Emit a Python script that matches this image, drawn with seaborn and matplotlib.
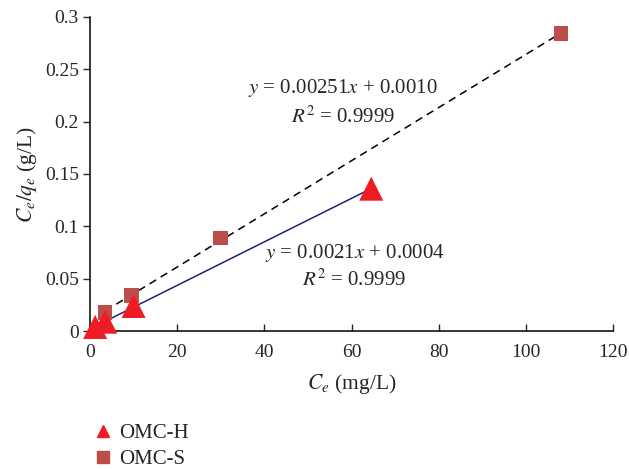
import numpy as np
import pandas as pd
import matplotlib
matplotlib.use("Agg")
import matplotlib.pyplot as plt
import seaborn as sns

# ~ values
h_ce = [1.2, 3.5, 10.0, 64.5]
h_ratio = [0.004, 0.009, 0.024, 0.136]
s_ce = [3.5, 9.5, 30.0, 108.0]
s_ratio = [0.018, 0.034, 0.089, 0.284]
h_eq = "$y$ = 0.0021$x$ + 0.0004"
s_eq = "$y$ = 0.00251$x$ + 0.0010"
r2_text = "$R^2$ = 0.9999"

sns.set_style("white")
plt.rcParams['font.family'] = ['Liberation Serif', 'DejaVu Serif']
plt.rcParams['mathtext.fontset'] = 'stix'

dfH = pd.DataFrame({'ce': h_ce, 'ratio': h_ratio})
dfS = pd.DataFrame({'ce': s_ce, 'ratio': s_ratio})

fig = plt.figure(figsize=(6.29, 4.69), dpi=100)
ax = fig.add_axes([0.143, 0.294, 0.832, 0.670])

## ~ linear trendlines through each series
for d, col, ls in [(dfH, '#1c2370', '-'), (dfS, 'black', (0, (5, 3.5)))]:
    k, b = np.polyfit(d['ce'], d['ratio'], 1)
    fit = pd.DataFrame({'ce': [d['ce'].min(), d['ce'].max()]})
    fit['ratio'] = k * fit['ce'] + b
    sns.lineplot(x='ce', y='ratio', data=fit, ax=ax, color=col,
                 linestyle=ls, linewidth=1.1, zorder=2)

sns.scatterplot(x='ce', y='ratio', data=dfS, ax=ax, marker='s', s=110,
                color='#bd4d4a', edgecolor='none', zorder=3, legend=False,
                clip_on=False)
sns.scatterplot(x='ce', y='ratio', data=dfH, ax=ax, marker='^', s=300,
                color='#ee1d25', edgecolor='none', zorder=3, legend=False,
                clip_on=False)

## ~ trendline equations
ax.text(58, 0.232, s_eq, ha='center', va='center', fontsize=15)
ax.text(58, 0.2045, r2_text, ha='center', va='center', fontsize=15)
ax.text(60.8, 0.0745, h_eq, ha='center', va='center', fontsize=15)
ax.text(60.6, 0.0487, r2_text, ha='center', va='center', fontsize=15)

ax.set_xlim(0, 120)
ax.set_ylim(0, 0.3)
ax.set_xticks(range(0, 121, 20))
ax.set_yticks([0, 0.05, 0.1, 0.15, 0.2, 0.25, 0.3])
ax.set_yticklabels(['0', '0.05', '0.1', '0.15', '0.2', '0.25', '0.3'])
ax.set_xlabel("$C_e$ (mg/L)", fontsize=15.5, labelpad=8)
ax.set_ylabel("$C_e/q_e$ (g/L)", fontsize=15.5, labelpad=4)
ax.tick_params(axis='both', labelsize=14)
ax.tick_params(axis='x', direction='in', length=5, width=1, pad=9)
ax.tick_params(axis='y', direction='out', length=5, width=1, pad=3, left=True)
ax.tick_params(axis='x', bottom=True)
sns.despine(ax=ax)
for sp in ['left', 'bottom']:
    ax.spines[sp].set_color('black')
    ax.spines[sp].set_linewidth(1.1)

handles = [plt.Line2D([], [], marker='^', color='#ee1d25', linestyle='none',
                      markersize=9, label='OMC-H'),
           plt.Line2D([], [], marker='s', color='#bd4d4a', linestyle='none',
                      markersize=8, label='OMC-S')]
fig.legend(handles=handles, loc='center left', bbox_to_anchor=(0.118, 0.048),
           frameon=False, fontsize=15, handletextpad=0.25, labelspacing=0.3,
           handlelength=1.0)

fig.savefig('out.png', dpi=100)
